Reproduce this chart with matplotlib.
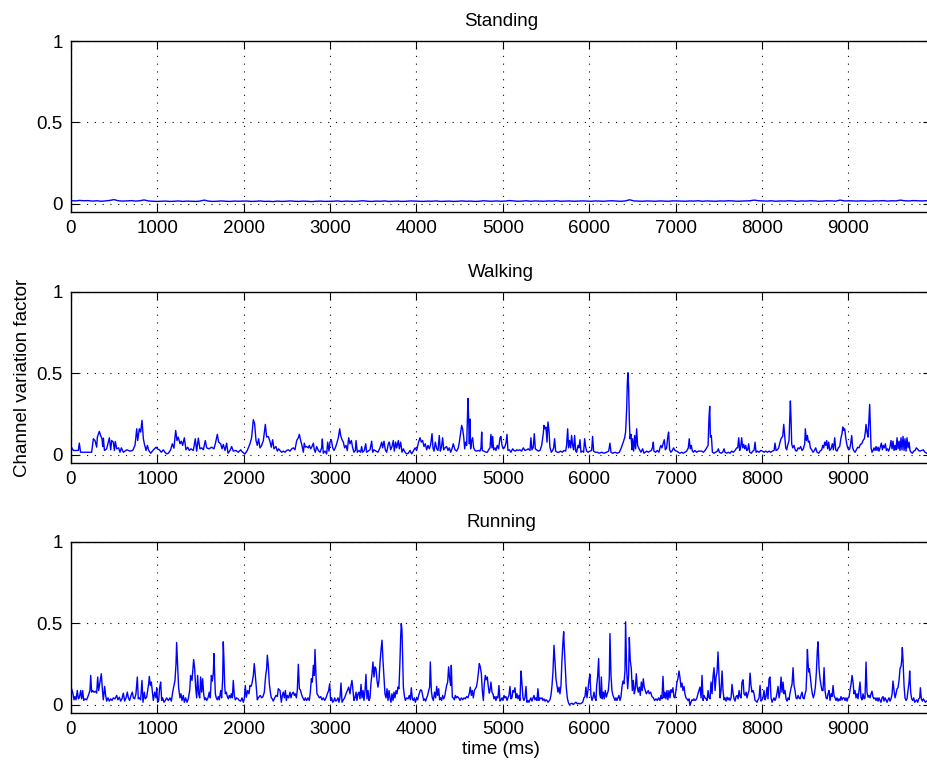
import numpy as np
import matplotlib
matplotlib.use("Agg")
import matplotlib.pyplot as plt

plt.rcParams['font.family'] = ['Liberation Sans', 'DejaVu Sans']

titles = ["Standing", "Walking", "Running"]
x_ticks = [0, 1000, 2000, 3000, 4000, 5000, 6000, 7000, 8000, 9000]
y_ticks = [0, 0.5, 1]
y_tick_labels = ["0", "0.5", "1"]

# Standing: nearly constant small values (~0.015-0.025)
standing_v = [
    0.020, 0.018, 0.021, 0.019, 0.020, 0.017, 0.019, 0.016, 0.018, 0.021, 0.026, 0.019, 0.017, 0.018, 0.020, 0.017, 0.019, 0.024, 0.018, 0.016, 0.015,
    0.016, 0.017, 0.015, 0.016, 0.018, 0.015, 0.017, 0.016, 0.015, 0.017, 0.023, 0.017, 0.015, 0.016, 0.018, 0.016, 0.015, 0.017, 0.016, 0.017,
    0.017, 0.015, 0.016, 0.018, 0.015, 0.016, 0.014, 0.017, 0.015, 0.016, 0.018, 0.016, 0.015, 0.017, 0.016, 0.014, 0.016, 0.017, 0.015, 0.016,
    0.016, 0.018, 0.015, 0.017, 0.016, 0.015, 0.017, 0.019, 0.016, 0.015, 0.017, 0.016, 0.018, 0.015, 0.016, 0.017, 0.015, 0.016, 0.018, 0.017,
    0.016, 0.015, 0.017, 0.016, 0.018, 0.015, 0.016, 0.017, 0.015, 0.016, 0.018, 0.016, 0.017, 0.015, 0.016, 0.019, 0.017, 0.016, 0.018, 0.016,
    0.017, 0.020, 0.018, 0.016, 0.017, 0.019, 0.016, 0.018, 0.017, 0.016, 0.018, 0.017, 0.019, 0.016, 0.017, 0.018, 0.016, 0.017, 0.018, 0.017,
    0.016, 0.018, 0.017, 0.016, 0.018, 0.019, 0.017, 0.016, 0.018, 0.025, 0.018, 0.017, 0.016, 0.018, 0.017, 0.016, 0.018, 0.017, 0.016, 0.018,
    0.018, 0.017, 0.016, 0.018, 0.017, 0.019, 0.016, 0.018, 0.017, 0.016, 0.018, 0.017, 0.019, 0.018, 0.016, 0.017, 0.018, 0.019, 0.023, 0.019,
    0.018, 0.017, 0.019, 0.016, 0.018, 0.017, 0.019, 0.018, 0.016, 0.018, 0.017, 0.019, 0.018, 0.016, 0.017, 0.019, 0.018, 0.017, 0.023, 0.018,
    0.019, 0.018, 0.017, 0.019, 0.018, 0.017, 0.019, 0.018, 0.020, 0.017, 0.019, 0.018, 0.023, 0.019, 0.018, 0.020, 0.019, 0.018, 0.019, 0.018,
]
standing_t = np.linspace(0, 9950, len(standing_v))

walking_pts = [
    (0, 0.051), (27, 0.027), (58, 0.027), (85, 0.027), (96, 0.072), (111, 0.016), (239, 0.016), (259, 0.099),
    (278, 0.088), (297, 0.047), (305, 0.109), (328, 0.144), (343, 0.119), (359, 0.099), (367, 0.051), (375, 0.103),
    (387, 0.027), (413, 0.037), (444, 0.105), (460, 0.031), (471, 0.088), (490, 0.078), (502, 0.027), (513, 0.082),
    (529, 0.037), (552, 0.043), (567, 0.016), (583, 0.043), (606, 0.016), (645, 0.031), (684, 0.023), (714, 0.027),
    (741, 0.058), (761, 0.160), (772, 0.088), (791, 0.160), (807, 0.140), (822, 0.212), (838, 0.099), (849, 0.068),
    (869, 0.027), (884, 0.058), (900, 0.027), (923, 0.010), (954, 0.031), (985, 0.047), (1000, 0.037), (1023, 0.031),
    (1046, 0.016), (1069, 0.031), (1088, 0.016), (1108, 0.006), (1127, 0.010), (1154, 0.031), (1173, 0.068), (1192, 0.041),
    (1212, 0.150), (1227, 0.088), (1242, 0.109), (1262, 0.068), (1277, 0.084), (1293, 0.058), (1312, 0.105), (1331, 0.031),
    (1351, 0.047), (1370, 0.027), (1389, 0.037), (1416, 0.027), (1439, 0.099), (1455, 0.023), (1474, 0.103), (1493, 0.037),
    (1513, 0.043), (1532, 0.031), (1555, 0.088), (1571, 0.043), (1598, 0.037), (1628, 0.047), (1655, 0.037), (1671, 0.068),
    (1694, 0.126), (1709, 0.078), (1733, 0.068), (1748, 0.037), (1763, 0.064), (1783, 0.027), (1802, 0.072), (1818, 0.010),
    (1841, 0.027), (1860, 0.051), (1879, 0.023), (1910, 0.027), (1937, 0.016), (1964, 0.031), (1987, 0.016), (2014, 0.006),
    (2041, 0.027), (2072, 0.068), (2091, 0.105), (2111, 0.216), (2126, 0.191), (2142, 0.088), (2157, 0.058), (2172, 0.099),
    (2188, 0.043), (2207, 0.058), (2227, 0.088), (2250, 0.187), (2265, 0.109), (2284, 0.113), (2304, 0.082), (2319, 0.047),
    (2335, 0.093), (2350, 0.037), (2373, 0.051), (2389, 0.023), (2404, 0.037), (2419, 0.027),
    (2439, 0.016), (2458, 0.023), (2478, 0.016), (2497, 0.027), (2516, 0.031), (2536, 0.023), (2555, 0.037), (2574, 0.043),
    (2593, 0.031), (2613, 0.088), (2632, 0.105), (2644, 0.126), (2659, 0.088), (2674, 0.058), (2690, 0.016), (2701, 0.072),
    (2713, 0.047), (2728, 0.051), (2748, 0.043), (2759, 0.058), (2775, 0.037), (2790, 0.051), (2806, 0.072), (2817, 0.031),
    (2829, 0.016), (2844, 0.051), (2864, 0.027), (2883, 0.016), (2902, 0.043), (2910, 0.097), (2921, 0.010), (2941, 0.023),
    (2960, 0.006), (2972, 0.078), (2987, 0.023), (2999, 0.078), (3014, 0.093), (3030, 0.043), (3045, 0.027), (3060, 0.043),
    (3076, 0.068), (3095, 0.105), (3111, 0.160), (3122, 0.119), (3138, 0.093), (3153, 0.078), (3168, 0.043), (3184, 0.058),
    (3199, 0.027), (3215, 0.105), (3230, 0.068), (3246, 0.088), (3261, 0.043), (3276, 0.016), (3292, 0.027), (3300, 0.088),
    (3315, 0.016), (3334, 0.027), (3354, 0.016), (3365, 0.051), (3377, 0.016), (3396, 0.027), (3412, 0.068), (3423, 0.016),
    (3442, 0.023), (3462, 0.031), (3481, 0.084), (3493, 0.016), (3508, 0.031), (3531, 0.023), (3554, 0.016), (3577, 0.043),
    (3597, 0.078), (3608, 0.043), (3624, 0.084), (3639, 0.031), (3655, 0.016), (3674, 0.068), (3686, 0.078), (3701, 0.031),
    (3716, 0.051), (3732, 0.088), (3743, 0.023), (3759, 0.078), (3770, 0.043), (3790, 0.088), (3801, 0.037), (3817, 0.078),
    (3832, 0.016), (3848, 0.037), (3867, 0.016), (3886, 0.006), (3905, 0.010), (3925, 0.027), (3944, 0.006), (3963, 0.023),
    (3983, 0.043), (4002, 0.027), (4021, 0.072), (4041, 0.105), (4056, 0.078), (4071, 0.088), (4087, 0.051), (4102, 0.068),
    (4118, 0.031), (4133, 0.058), (4149, 0.037), (4164, 0.064), (4180, 0.130), (4191, 0.043), (4203, 0.023), (4218, 0.078),
    (4234, 0.037), (4249, 0.027), (4264, 0.119), (4276, 0.023), (4288, 0.043), (4303, 0.105), (4315, 0.031), (4330, 0.043),
    (4349, 0.051), (4365, 0.027), (4380, 0.043), (4396, 0.016), (4411, 0.037), (4426, 0.068), (4446, 0.031), (4465, 0.023),
    (4484, 0.043), (4496, 0.078), (4511, 0.134), (4523, 0.181), (4534, 0.160), (4546, 0.113), (4558, 0.037), (4569, 0.078),
    (4581, 0.058), (4588, 0.202), (4596, 0.346), (4604, 0.222), (4612, 0.068), (4619, 0.220), (4627, 0.037), (4639, 0.088),
    (4650, 0.105), (4662, 0.043), (4677, 0.027), (4697, 0.023), (4716, 0.027), (4735, 0.023), (4747, 0.043), (4755, 0.140),
    (4762, 0.027), (4781, 0.023), (4805, 0.016), (4820, 0.016), (4835, 0.031), (4851, 0.043),
    (4862, 0.126), (4874, 0.043), (4882, 0.113), (4893, 0.031), (4909, 0.043), (4920, 0.027), (4936, 0.058), (4951, 0.037),
    (4967, 0.105), (4978, 0.113), (4990, 0.058), (5005, 0.037), (5021, 0.047), (5036, 0.072), (5048, 0.126), (5059, 0.027),
    (5075, 0.031), (5094, 0.016), (5113, 0.037), (5129, 0.027), (5144, 0.023), (5160, 0.031), (5179, 0.027), (5198, 0.031),
    (5217, 0.023), (5237, 0.043), (5256, 0.027), (5275, 0.031), (5295, 0.037), (5314, 0.027), (5325, 0.105), (5337, 0.031),
    (5352, 0.047), (5364, 0.130), (5376, 0.037), (5391, 0.031), (5410, 0.023), (5430, 0.027), (5449, 0.058), (5468, 0.130),
    (5476, 0.181), (5488, 0.160), (5499, 0.171), (5511, 0.078), (5522, 0.202), (5534, 0.150), (5545, 0.047), (5561, 0.016),
    (5576, 0.027), (5588, 0.043), (5599, 0.099), (5611, 0.023), (5630, 0.016), (5650, 0.016), (5669, 0.023), (5688, 0.016),
    (5707, 0.027), (5727, 0.023), (5738, 0.058), (5750, 0.160), (5761, 0.043), (5773, 0.088), (5785, 0.043), (5796, 0.119),
    (5808, 0.058), (5819, 0.031), (5831, 0.119), (5843, 0.023), (5854, 0.016), (5870, 0.058), (5881, 0.043), (5893, 0.093),
    (5904, 0.016), (5920, 0.023), (5935, 0.016), (5947, 0.099), (5958, 0.051), (5970, 0.023), (5985, 0.016), (6008, 0.023),
    (6028, 0.027), (6039, 0.113), (6051, 0.023), (6070, 0.016), (6093, 0.016), (6116, 0.010), (6144, 0.016), (6170, 0.010),
    (6201, 0.016), (6225, 0.023), (6240, 0.072), (6252, 0.016), (6271, 0.010), (6298, 0.016), (6325, 0.010), (6348, 0.016),
    (6371, 0.043), (6394, 0.078), (6410, 0.105), (6421, 0.140), (6433, 0.274), (6441, 0.438), (6448, 0.504), (6456, 0.418),
    (6464, 0.222), (6472, 0.099), (6483, 0.126), (6495, 0.031), (6502, 0.099), (6514, 0.023), (6526, 0.119), (6537, 0.037),
    (6549, 0.160), (6560, 0.058), (6572, 0.043), (6583, 0.031), (6599, 0.016), (6618, 0.037), (6634, 0.010), (6649, 0.016),
    (6665, 0.023), (6684, 0.016), (6703, 0.023), (6719, 0.027), (6734, 0.047), (6742, 0.078), (6749, 0.023), (6769, 0.016),
    (6788, 0.027), (6807, 0.016), (6819, 0.043), (6830, 0.058), (6842, 0.043), (6857, 0.072), (6869, 0.093), (6881, 0.031),
    (6896, 0.043), (6908, 0.105), (6919, 0.140), (6931, 0.031), (6946, 0.016), (6962, 0.027), (6977, 0.043), (6993, 0.027),
    (7012, 0.023), (7031, 0.016), (7050, 0.010), (7070, 0.016), (7089, 0.010), (7108, 0.016), (7128, 0.023), (7147, 0.043),
    (7158, 0.099), (7170, 0.037), (7182, 0.058), (7193, 0.027), (7205, 0.016), (7224, 0.027), (7243, 0.016), (7263, 0.023),
    (7282, 0.023),
    (7302, 0.023), (7322, 0.016), (7341, 0.027), (7360, 0.043), (7376, 0.058), (7387, 0.233), (7395, 0.298), (7403, 0.109),
    (7414, 0.119), (7426, 0.016), (7445, 0.010), (7464, 0.016), (7484, 0.023), (7495, 0.037), (7507, 0.016), (7526, 0.010),
    (7545, 0.016), (7561, 0.037), (7572, 0.016), (7592, 0.010), (7611, 0.016), (7630, 0.010), (7650, 0.023), (7669, 0.016),
    (7688, 0.027), (7707, 0.043), (7719, 0.043), (7731, 0.105), (7742, 0.027), (7754, 0.051), (7765, 0.105), (7777, 0.043),
    (7789, 0.064), (7800, 0.037), (7812, 0.058), (7823, 0.027), (7835, 0.031), (7846, 0.068), (7858, 0.016), (7877, 0.010),
    (7893, 0.023), (7908, 0.027), (7920, 0.078), (7931, 0.016), (7947, 0.023), (7966, 0.016), (7985, 0.027), (8005, 0.023),
    (8024, 0.016), (8043, 0.023), (8063, 0.016), (8082, 0.023), (8101, 0.016), (8120, 0.023), (8140, 0.027), (8151, 0.072),
    (8163, 0.027), (8178, 0.031), (8194, 0.043), (8209, 0.078), (8225, 0.105), (8240, 0.113), (8252, 0.187), (8263, 0.119),
    (8275, 0.043), (8286, 0.031), (8302, 0.068), (8313, 0.088), (8321, 0.212), (8329, 0.331), (8337, 0.212), (8344, 0.068),
    (8356, 0.043), (8371, 0.058), (8387, 0.027), (8402, 0.023), (8418, 0.043), (8433, 0.037), (8448, 0.051), (8464, 0.027),
    (8479, 0.037), (8495, 0.068), (8502, 0.160), (8514, 0.088), (8526, 0.119), (8537, 0.078), (8549, 0.084), (8560, 0.043),
    (8576, 0.031), (8591, 0.016), (8607, 0.027), (8622, 0.043), (8638, 0.016), (8657, 0.010), (8672, 0.023), (8692, 0.031),
    (8703, 0.058), (8715, 0.043), (8726, 0.078), (8738, 0.058), (8749, 0.088), (8761, 0.037), (8773, 0.078), (8784, 0.027),
    (8800, 0.037), (8815, 0.068), (8827, 0.031), (8842, 0.105), (8854, 0.031), (8869, 0.023), (8884, 0.043), (8900, 0.051),
    (8915, 0.105), (8927, 0.130), (8935, 0.171), (8946, 0.150), (8958, 0.160), (8969, 0.109), (8981, 0.068), (8993, 0.043),
    (9004, 0.031), (9016, 0.037), (9027, 0.068), (9039, 0.119), (9050, 0.043), (9062, 0.027), (9077, 0.016), (9093, 0.031),
    (9108, 0.047), (9124, 0.043), (9139, 0.064), (9155, 0.068), (9170, 0.088), (9185, 0.099), (9197, 0.140), (9205, 0.187),
    (9216, 0.140), (9228, 0.109), (9236, 0.191), (9247, 0.310), (9255, 0.171), (9263, 0.043), (9274, 0.016), (9286, 0.027),
    (9297, 0.043), (9309, 0.027), (9321, 0.051), (9332, 0.027), (9344, 0.047), (9355, 0.023), (9367, 0.043), (9382, 0.072),
    (9394, 0.031), (9405, 0.058), (9417, 0.043), (9429, 0.068), (9440, 0.027), (9452, 0.037), (9467, 0.023), (9483, 0.051),
    (9494, 0.088), (9506, 0.037), (9517, 0.084), (9529, 0.027), (9541, 0.058), (9552, 0.031), (9564, 0.105), (9575, 0.037),
    (9587, 0.084), (9598, 0.027), (9610, 0.105), (9621, 0.031), (9633, 0.113), (9645, 0.027), (9656, 0.099), (9668, 0.023),
    (9679, 0.105), (9691, 0.043), (9703, 0.078), (9714, 0.027), (9726, 0.016), (9741, 0.010), (9757, 0.023), (9772, 0.027),
    (9787, 0.043), (9799, 0.037), (9814, 0.027), (9830, 0.023), (9849, 0.027), (9868, 0.031), (9888, 0.016), (9907, 0.010),
    (9930, 0.016),
]

running_pts = [
    (0, 0.109), (19, 0.078), (35, 0.031), (46, 0.051), (58, 0.031), (73, 0.088), (85, 0.037), (96, 0.043),
    (112, 0.088), (123, 0.037), (135, 0.088), (147, 0.027), (162, 0.037), (181, 0.031), (201, 0.058), (220, 0.088),
    (228, 0.181), (239, 0.078), (251, 0.088), (266, 0.078), (282, 0.084), (297, 0.072), (309, 0.171), (320, 0.088),
    (336, 0.140), (351, 0.191), (363, 0.099), (374, 0.031), (390, 0.113), (401, 0.058), (413, 0.023), (428, 0.043),
    (444, 0.023), (459, 0.037), (475, 0.027), (490, 0.043), (509, 0.037), (529, 0.058), (544, 0.031), (560, 0.047),
    (575, 0.023), (590, 0.037), (606, 0.072), (621, 0.023), (637, 0.043), (652, 0.078), (664, 0.043), (679, 0.027),
    (695, 0.058), (710, 0.078), (722, 0.043), (737, 0.037), (752, 0.068), (768, 0.171), (779, 0.037), (791, 0.043),
    (806, 0.031), (822, 0.150), (833, 0.016), (849, 0.078), (860, 0.037), (876, 0.047), (888, 0.088), (899, 0.130),
    (907, 0.175), (918, 0.119), (930, 0.140), (942, 0.078), (953, 0.027), (969, 0.078), (984, 0.043), (992, 0.105),
    (1003, 0.016), (1015, 0.027), (1026, 0.105), (1038, 0.140), (1050, 0.027), (1061, 0.043), (1077, 0.016), (1092, 0.027),
    (1107, 0.043), (1127, 0.027), (1146, 0.043), (1162, 0.023), (1177, 0.078), (1192, 0.119), (1204, 0.150), (1216, 0.253),
    (1223, 0.383), (1235, 0.233), (1246, 0.105), (1262, 0.043), (1273, 0.068), (1285, 0.027), (1300, 0.058), (1312, 0.016),
    (1327, 0.043), (1343, 0.016), (1358, 0.037), (1374, 0.088), (1385, 0.181), (1401, 0.150), (1412, 0.222), (1420, 0.278),
    (1432, 0.222), (1443, 0.109), (1455, 0.043), (1466, 0.181), (1478, 0.068), (1490, 0.043), (1501, 0.171), (1513, 0.078),
    (1524, 0.160), (1536, 0.068), (1547, 0.031), (1559, 0.043), (1571, 0.027), (1586, 0.043), (1601, 0.078), (1613, 0.043),
    (1625, 0.181), (1636, 0.146), (1648, 0.195), (1655, 0.315), (1663, 0.191), (1671, 0.068), (1682, 0.043), (1694, 0.031),
    (1706, 0.051), (1717, 0.031), (1733, 0.088), (1744, 0.043), (1756, 0.160), (1763, 0.387), (1771, 0.274), (1779, 0.119),
    (1787, 0.068), (1798, 0.078), (1810, 0.051), (1821, 0.037), (1833, 0.058), (1845, 0.043), (1856, 0.068), (1868, 0.043),
    (1879, 0.150), (1891, 0.058), (1902, 0.031), (1918, 0.043), (1933, 0.037), (1949, 0.027), (1964, 0.023), (1980, 0.043),
    (1995, 0.016), (2007, 0.037), (2018, 0.119), (2030, 0.047), (2045, 0.088), (2061, 0.068), (2072, 0.119), (2084, 0.113),
    (2095, 0.130), (2111, 0.181), (2122, 0.253), (2134, 0.181), (2146, 0.099), (2157, 0.031), (2169, 0.043), (2180, 0.051),
    (2192, 0.058), (2207, 0.043), (2223, 0.051), (2238, 0.078), (2254, 0.181), (2265, 0.222), (2273, 0.305), (2284, 0.243),
    (2296, 0.130), (2308, 0.078), (2319, 0.043), (2331, 0.037), (2342, 0.023), (2358, 0.043), (2373, 0.058), (2389, 0.051),
    (2400, 0.099), (2420, 0.088),
    (2435, 0.016), (2447, 0.058), (2458, 0.078), (2470, 0.043), (2482, 0.088), (2493, 0.027), (2505, 0.058), (2520, 0.043),
    (2536, 0.078), (2547, 0.043), (2559, 0.068), (2574, 0.078), (2586, 0.058), (2597, 0.068), (2609, 0.043), (2620, 0.088),
    (2632, 0.249), (2644, 0.099), (2655, 0.093), (2667, 0.068), (2678, 0.051), (2690, 0.037), (2701, 0.027), (2713, 0.043),
    (2728, 0.027), (2744, 0.043), (2759, 0.027), (2771, 0.078), (2783, 0.160), (2794, 0.140), (2806, 0.243), (2817, 0.181),
    (2825, 0.340), (2837, 0.171), (2848, 0.068), (2860, 0.058), (2875, 0.043), (2891, 0.051), (2906, 0.031), (2921, 0.043),
    (2937, 0.027), (2952, 0.043), (2968, 0.068), (2983, 0.088), (2995, 0.130), (3006, 0.027), (3018, 0.043), (3029, 0.016),
    (3041, 0.023), (3053, 0.043), (3064, 0.023), (3076, 0.027), (3091, 0.043), (3103, 0.016), (3114, 0.043), (3126, 0.134),
    (3138, 0.016), (3153, 0.031), (3168, 0.043), (3184, 0.068), (3199, 0.088), (3215, 0.109), (3230, 0.068), (3242, 0.119),
    (3253, 0.150), (3265, 0.088), (3276, 0.027), (3288, 0.043), (3300, 0.078), (3311, 0.027), (3323, 0.068), (3334, 0.078),
    (3346, 0.037), (3358, 0.126), (3369, 0.043), (3381, 0.088), (3392, 0.027), (3404, 0.088), (3415, 0.187), (3427, 0.037),
    (3439, 0.088), (3450, 0.027), (3462, 0.043), (3473, 0.134), (3485, 0.191), (3496, 0.263), (3508, 0.171), (3520, 0.233),
    (3531, 0.222), (3543, 0.150), (3554, 0.109), (3566, 0.150), (3577, 0.253), (3589, 0.335), (3601, 0.397), (3612, 0.274),
    (3624, 0.171), (3635, 0.068), (3647, 0.043), (3659, 0.099), (3670, 0.027), (3682, 0.088), (3693, 0.043), (3705, 0.016),
    (3716, 0.068), (3728, 0.027), (3740, 0.078), (3751, 0.043), (3763, 0.088), (3774, 0.068), (3786, 0.109), (3797, 0.099),
    (3809, 0.274), (3817, 0.418), (3824, 0.500), (3832, 0.459), (3840, 0.274), (3848, 0.109), (3859, 0.058), (3871, 0.027),
    (3886, 0.043), (3902, 0.037), (3917, 0.058), (3929, 0.031), (3940, 0.105), (3952, 0.037), (3963, 0.027), (3975, 0.043),
    (3987, 0.016), (4002, 0.043), (4014, 0.031), (4025, 0.058), (4037, 0.078), (4048, 0.093), (4060, 0.088), (4071, 0.058),
    (4083, 0.027), (4095, 0.037), (4106, 0.023), (4118, 0.043), (4129, 0.058), (4141, 0.088), (4152, 0.109), (4160, 0.263),
    (4172, 0.088), (4183, 0.043), (4195, 0.027), (4210, 0.078), (4222, 0.043), (4234, 0.113), (4245, 0.058), (4257, 0.099),
    (4268, 0.031), (4280, 0.043), (4291, 0.027), (4303, 0.058), (4315, 0.037), (4326, 0.051), (4338, 0.088), (4349, 0.119),
    (4361, 0.140), (4372, 0.233), (4384, 0.160), (4396, 0.119), (4403, 0.243), (4415, 0.047), (4426, 0.043), (4438, 0.031),
    (4450, 0.058), (4461, 0.043), (4473, 0.051), (4488, 0.043), (4504, 0.027), (4519, 0.043), (4535, 0.031), (4550, 0.043),
    (4565, 0.037), (4581, 0.051), (4596, 0.043), (4612, 0.072), (4623, 0.109), (4635, 0.058), (4646, 0.088), (4658, 0.043),
    (4670, 0.088), (4681, 0.099), (4693, 0.109), (4704, 0.140), (4716, 0.195), (4727, 0.253), (4739, 0.233), (4751, 0.191),
    (4762, 0.088), (4774, 0.027), (4785, 0.126), (4797, 0.181), (4808, 0.154), (4820, 0.171), (4832, 0.109), (4843, 0.072),
    (4851, 0.088),
    (4862, 0.140), (4874, 0.078), (4885, 0.068), (4897, 0.037), (4909, 0.051), (4920, 0.027), (4932, 0.051), (4943, 0.043),
    (4955, 0.119), (4967, 0.023), (4978, 0.031), (4990, 0.043), (5001, 0.027), (5013, 0.058), (5024, 0.043), (5036, 0.051),
    (5048, 0.027), (5059, 0.043), (5071, 0.058), (5082, 0.113), (5094, 0.037), (5105, 0.043), (5117, 0.088), (5129, 0.078),
    (5140, 0.105), (5152, 0.043), (5163, 0.068), (5175, 0.037), (5187, 0.058), (5198, 0.027), (5210, 0.208), (5221, 0.134),
    (5233, 0.043), (5244, 0.027), (5256, 0.043), (5268, 0.113), (5279, 0.016), (5291, 0.027), (5302, 0.016), (5314, 0.031),
    (5325, 0.043), (5337, 0.023), (5349, 0.043), (5360, 0.058), (5372, 0.031), (5383, 0.043), (5395, 0.027), (5406, 0.099),
    (5418, 0.027), (5430, 0.043), (5441, 0.037), (5453, 0.043), (5464, 0.027), (5476, 0.037), (5488, 0.023), (5499, 0.031),
    (5511, 0.027), (5522, 0.016), (5534, 0.023), (5545, 0.031), (5557, 0.058), (5569, 0.119), (5580, 0.202), (5592, 0.366),
    (5603, 0.263), (5615, 0.160), (5626, 0.119), (5638, 0.078), (5650, 0.109), (5661, 0.068), (5673, 0.119), (5684, 0.274),
    (5696, 0.387), (5704, 0.449), (5711, 0.356), (5723, 0.233), (5734, 0.109), (5746, 0.043), (5758, 0.016), (5769, 0.002),
    (5785, 0.006), (5800, 0.010), (5816, 0.002), (5831, 0.010), (5846, 0.016), (5862, 0.006), (5877, 0.010), (5893, 0.006),
    (5908, 0.010), (5924, 0.016), (5939, 0.043), (5951, 0.051), (5962, 0.109), (5974, 0.043), (5985, 0.088), (5997, 0.150),
    (6008, 0.187), (6020, 0.058), (6032, 0.027), (6043, 0.043), (6055, 0.078), (6066, 0.043), (6078, 0.027), (6086, 0.119),
    (6097, 0.171), (6109, 0.284), (6120, 0.068), (6132, 0.043), (6140, 0.171), (6151, 0.037), (6163, 0.078), (6174, 0.037),
    (6186, 0.088), (6198, 0.047), (6209, 0.068), (6221, 0.088), (6232, 0.160), (6240, 0.438), (6252, 0.181), (6263, 0.088),
    (6275, 0.058), (6286, 0.043), (6298, 0.027), (6309, 0.043), (6321, 0.027), (6333, 0.043), (6344, 0.058), (6356, 0.027),
    (6367, 0.047), (6379, 0.109), (6391, 0.146), (6402, 0.130), (6414, 0.212), (6421, 0.510), (6433, 0.222), (6445, 0.099),
    (6456, 0.181), (6464, 0.414), (6475, 0.274), (6487, 0.222), (6499, 0.088), (6510, 0.150), (6522, 0.068), (6533, 0.099),
    (6545, 0.191), (6556, 0.109), (6568, 0.078), (6580, 0.109), (6591, 0.058), (6603, 0.140), (6614, 0.088), (6626, 0.160),
    (6637, 0.109), (6649, 0.088), (6661, 0.068), (6672, 0.078), (6684, 0.088), (6695, 0.068), (6711, 0.078), (6726, 0.051),
    (6742, 0.043), (6757, 0.027), (6773, 0.037), (6788, 0.027), (6803, 0.043), (6819, 0.027), (6830, 0.058), (6842, 0.037),
    (6854, 0.175), (6865, 0.043), (6877, 0.078), (6888, 0.037), (6900, 0.088), (6911, 0.031), (6923, 0.088), (6935, 0.043),
    (6946, 0.093), (6958, 0.078), (6969, 0.105), (6981, 0.047), (6993, 0.043), (7004, 0.088), (7016, 0.140), (7027, 0.160),
    (7039, 0.208), (7050, 0.171), (7062, 0.109), (7074, 0.134), (7085, 0.088), (7097, 0.113), (7108, 0.068), (7120, 0.043),
    (7131, 0.037), (7143, 0.027), (7155, 0.037), (7166, -0.004), (7178, 0.016), (7189, 0.031), (7201, 0.027), (7212, 0.037),
    (7224, 0.027), (7236, 0.031), (7247, 0.043), (7259, 0.068), (7270, 0.088), (7282, 0.109),
    (7295, 0.043), (7306, 0.181), (7318, 0.027), (7329, 0.058), (7341, 0.043), (7352, 0.037), (7364, 0.027), (7376, 0.088),
    (7387, 0.043), (7399, 0.037), (7410, 0.140), (7422, 0.068), (7433, 0.171), (7445, 0.228), (7457, 0.088), (7468, 0.171),
    (7480, 0.202), (7491, 0.325), (7503, 0.171), (7515, 0.043), (7526, 0.088), (7538, 0.208), (7549, 0.088), (7561, 0.031),
    (7572, 0.043), (7584, 0.023), (7596, 0.047), (7607, 0.031), (7619, 0.043), (7630, 0.027), (7642, 0.043), (7653, 0.126),
    (7665, 0.072), (7677, 0.037), (7688, 0.023), (7700, 0.051), (7711, 0.058), (7723, 0.037), (7735, 0.088), (7746, 0.051),
    (7758, 0.043), (7769, 0.140), (7781, 0.154), (7792, 0.068), (7804, 0.058), (7816, 0.078), (7827, 0.043), (7839, 0.068),
    (7850, 0.088), (7862, 0.195), (7873, 0.119), (7885, 0.078), (7897, 0.088), (7908, 0.068), (7920, 0.027), (7931, 0.023),
    (7943, 0.016), (7954, 0.031), (7966, 0.043), (7978, 0.119), (7989, 0.023), (8001, 0.031), (8012, 0.043), (8024, 0.088),
    (8036, 0.031), (8047, 0.051), (8059, 0.109), (8070, 0.037), (8082, 0.160), (8093, 0.171), (8105, 0.043), (8117, 0.016),
    (8128, 0.031), (8140, 0.043), (8151, 0.027), (8163, 0.043), (8174, 0.072), (8186, 0.113), (8198, 0.043), (8209, 0.078),
    (8221, 0.171), (8232, 0.078), (8244, 0.140), (8255, 0.068), (8267, 0.088), (8279, 0.037), (8290, 0.023), (8302, 0.043),
    (8313, 0.031), (8325, 0.072), (8337, 0.105), (8348, 0.126), (8360, 0.228), (8371, 0.119), (8383, 0.088), (8394, 0.043),
    (8406, 0.037), (8418, 0.058), (8429, 0.043), (8441, 0.037), (8452, 0.058), (8464, 0.078), (8475, 0.043), (8487, 0.037),
    (8499, 0.068), (8510, 0.088), (8518, 0.191), (8526, 0.340), (8533, 0.263), (8541, 0.202), (8549, 0.222), (8560, 0.171),
    (8572, 0.109), (8583, 0.068), (8595, 0.043), (8607, 0.068), (8618, 0.109), (8630, 0.202), (8641, 0.335), (8649, 0.387),
    (8661, 0.222), (8672, 0.160), (8684, 0.119), (8695, 0.088), (8707, 0.088), (8719, 0.228), (8730, 0.088), (8742, 0.043),
    (8753, 0.037), (8765, 0.068), (8776, 0.088), (8788, 0.027), (8800, 0.068), (8811, 0.051), (8823, 0.119), (8834, 0.058),
    (8846, 0.043), (8857, 0.027), (8869, 0.043), (8881, 0.023), (8892, 0.037), (8904, 0.027), (8915, 0.051), (8927, 0.031),
    (8939, 0.043), (8950, 0.043), (8962, 0.027), (8973, 0.043), (8985, 0.023), (8996, 0.043), (9008, 0.047), (9020, 0.093),
    (9031, 0.126), (9043, 0.181), (9054, 0.140), (9066, 0.068), (9077, 0.088), (9089, 0.043), (9101, 0.068), (9112, 0.037),
    (9124, 0.088), (9135, 0.140), (9147, 0.043), (9158, 0.031), (9170, 0.068), (9182, 0.037), (9193, 0.043), (9205, 0.263),
    (9216, 0.078), (9228, 0.047), (9240, 0.058), (9251, 0.043), (9263, 0.068), (9274, 0.084), (9286, 0.047), (9297, 0.037),
    (9309, 0.043), (9321, 0.027), (9332, 0.043), (9344, 0.023), (9355, 0.043), (9367, 0.027), (9378, 0.016), (9390, 0.043),
    (9402, 0.051), (9413, 0.023), (9425, 0.043), (9436, 0.031), (9448, 0.016), (9459, 0.031), (9471, 0.043), (9483, 0.023),
    (9494, 0.037), (9506, 0.064), (9517, 0.146), (9529, 0.088), (9541, 0.043), (9552, 0.068), (9564, 0.099), (9575, 0.105),
    (9587, 0.150), (9598, 0.222), (9610, 0.237), (9618, 0.274), (9625, 0.352), (9633, 0.274), (9645, 0.119), (9656, 0.043),
    (9668, 0.027), (9679, 0.037), (9691, 0.088), (9703, 0.140), (9710, 0.208), (9722, 0.078), (9733, 0.037), (9745, 0.027),
    (9757, 0.043), (9768, 0.016), (9780, 0.023), (9791, 0.031), (9803, 0.016), (9815, 0.037), (9826, 0.043), (9834, 0.105),
    (9845, 0.037), (9857, 0.023), (9868, 0.037), (9880, 0.027), (9892, 0.016), (9907, 0.023), (9930, 0.031),
]

walking_t, walking_v = zip(*walking_pts)
running_t, running_v = zip(*running_pts)

series = [(standing_t, standing_v), (walking_t, walking_v), (running_t, running_v)]

fig = plt.figure(figsize=(9.27, 7.65), dpi=100)
left = 71 / 927
width = 860 / 927
height = 171 / 765
bottoms = [(765 - 212) / 765, (765 - 463) / 765, (765 - 713) / 765]
x_max = 9957

FS = 13.5
axes = []
for title, (t, v), b in zip(titles, series, bottoms):
    ax = fig.add_axes([left, b, width, height])
    ax.plot(t, v, color=(0, 0, 1), lw=1.0)
    ax.set_xlim(0, x_max)
    ax.set_ylim(-0.05, 1)
    ax.set_xticks(x_ticks)
    ax.set_xticklabels([str(x) for x in x_ticks], fontsize=FS)
    ax.set_yticks(y_ticks)
    ax.set_yticklabels(y_tick_labels, fontsize=FS)
    ax.tick_params(direction='in', length=6, width=0.8, top=True, right=True, pad=6)
    ax.grid(True, color='black', linestyle=(0, (1, 6)), linewidth=0.8)
    for s in ax.spines.values():
        s.set_linewidth(1.0)
    ax.set_title(title, fontsize=FS, pad=11)
    axes.append(ax)

axes[1].set_ylabel("Channel variation factor", fontsize=FS, labelpad=4)
axes[2].set_xlabel("time (ms)", fontsize=FS, labelpad=2)

fig.savefig("out.png", dpi=100)
